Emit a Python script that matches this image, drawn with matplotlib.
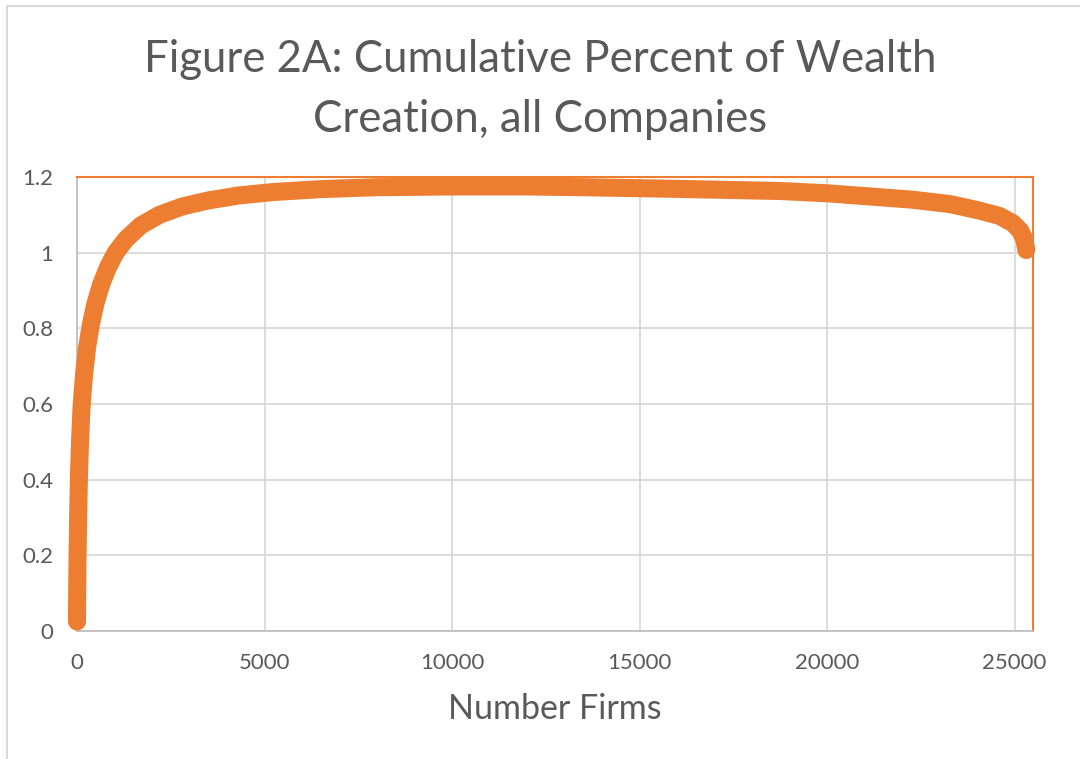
#recreate Figure 2A: cumulative percent of wealth creation
import numpy as np
import matplotlib
matplotlib.use('Agg')
import matplotlib.pyplot as plt
from matplotlib.patches import Rectangle

plt.rcParams['font.family'] = ['Lato', 'DejaVu Sans']

#values
firms = [0, 5, 15, 30, 50, 80, 125, 190, 270, 370, 490, 640, 820, 1030,
         1300, 1700, 2200, 2800, 3500, 4300, 5200, 6500, 8000, 10000,
         12000, 13500, 15800, 18740, 20000, 22280, 23300, 24070, 24600,
         24950, 25150, 25260, 25310]
cum_pct = [0.025, 0.1, 0.2, 0.3, 0.4, 0.5, 0.6, 0.68, 0.75, 0.81, 0.865,
           0.915, 0.96, 1.0, 1.035, 1.072, 1.1, 1.122, 1.138, 1.151, 1.16,
           1.168, 1.173, 1.175, 1.175, 1.173, 1.169, 1.163, 1.157, 1.14,
           1.128, 1.111, 1.097, 1.078, 1.058, 1.035, 1.007]

xticks = [0, 5000, 10000, 15000, 20000, 25000]
yticks = [0, 0.2, 0.4, 0.6, 0.8, 1.0, 1.2]
ytick_labels = ['0', '0.2', '0.4', '0.6', '0.8', '1', '1.2']

orange = '#ED7D31'
grid_col = '#D9D9D9'
text_col = '#595959'

fig = plt.figure(figsize=(10.8, 7.59), dpi=100)
fig.patch.set_facecolor('white')

#chart border (cropped at right and bottom in the reference)
fig.patches.append(Rectangle((7/1080, -0.05), 1.2, 1 - 6/759 + 0.05,
                             transform=fig.transFigure, fill=False,
                             edgecolor='#D9D9D9', linewidth=1.5))

ax = fig.add_axes([77/1080, 1 - 631/759, (1033 - 77)/1080, (631 - 177)/759])
ax.set_xlim(0, 25490)
ax.set_ylim(0, 1.2)

ax.plot(firms, cum_pct, color=orange, linewidth=13,
        solid_capstyle='round', solid_joinstyle='round', zorder=3,
        clip_on=False)

ax.set_xticks(xticks)
ax.set_yticks(yticks)
ax.set_yticklabels(ytick_labels)
ax.tick_params(length=0, labelsize=16, labelcolor=text_col)
ax.tick_params(axis='x', pad=16)
ax.tick_params(axis='y', pad=17)
ax.grid(True, color=grid_col, linewidth=1.3)
ax.set_axisbelow(True)

ax.spines['top'].set_color(orange)
ax.spines['right'].set_color(orange)
ax.spines['top'].set_linewidth(1.5)
ax.spines['right'].set_linewidth(1.5)
ax.spines['left'].set_color('#BFBFBF')
ax.spines['bottom'].set_color('#BFBFBF')
ax.spines['left'].set_linewidth(1.3)
ax.spines['bottom'].set_linewidth(1.3)

ax.set_xlabel('Number Firms', fontsize=24.5, color=text_col, labelpad=14)

fig.text(0.5, 1 - 89.5/759, 'Figure 2A: Cumulative Percent of Wealth\nCreation, all Companies',
         ha='center', va='center', fontsize=31.5, color=text_col, linespacing=1.55)

fig.savefig('out.png', dpi=100)
